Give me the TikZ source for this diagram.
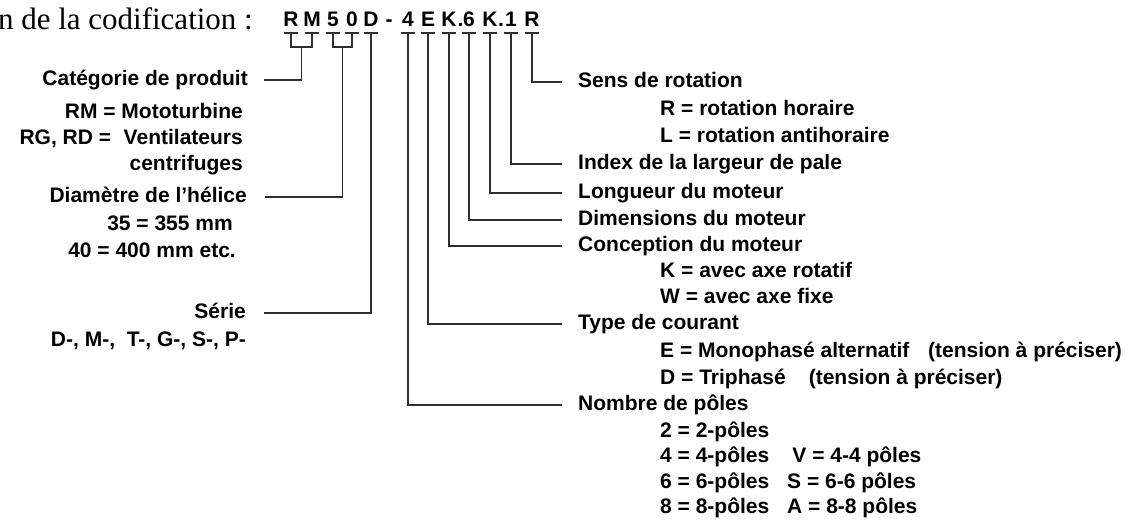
\documentclass[tikz,border=0pt]{standalone}
\usepackage{fontspec}
\setmainfont{Liberation Serif}
\setsansfont{Liberation Sans}
\usetikzlibrary{positioning,calc}
\definecolor{linegray}{HTML}{2E2E2E}

\tikzset{
	codeletter/.style={font=\sffamily\bfseries\fontsize{21}{25}\selectfont, inner sep=0pt, anchor=base},
	codeline/.style={draw=linegray, line width=2pt},
	leader/.style={draw=linegray, line width=1.3pt},
	lbl/.style={font=\sffamily\bfseries\fontsize{21}{25}\selectfont, inner sep=0pt, text height=15pt, text depth=4pt},
}

\begin{document}
\begin{tikzpicture}[x=1pt, y=-1pt]
			\useasboundingbox (0,0) rectangle (1142,522);
			\node[font=\rmfamily\fontsize{31}{35}\selectfont, inner sep=0pt, anchor=base east] (title) at (253,29) {n de la codification :};
			\foreach \n/\x/\t in {cR/291/R, cM/312/M, c5/333/5, c0/352/0, cD/371/D, c4/408/4, cE/428/E, cK/449/K, c6/469/6, cKb/490/K, c1/511/1, cRb/532/R}{
				\node[codeletter] (\n) at (\x,27) {\t};
				\coordinate (u\n) at ($(\n.base)+(0,6)$);
				\draw[codeline] ($(u\n)+(-7,0)$) -- ($(u\n)+(7,0)$);
			}
			\node[codeletter] (cdash) at (389,27) {-};
			\node[codeletter] (cdot1) at (460.5,27) {.};
			\node[codeletter] (cdot2) at (501,27) {.};
			
			\node[lbl, anchor=east] (cat) at (248,80) {Catégorie de produit};
			\node[lbl, anchor=east] (rmMot) at (243,113) {RM = Mototurbine};
			\node[lbl, anchor=east] (rgVent) at (243,139) {RG, RD =\hspace{0.6em}Ventilateurs};
			\node[lbl, anchor=east] (centri) at (243,165) {centrifuges};
			\node[lbl, anchor=east] (dia) at (247,197) {Diamètre de l’hélice};
			\node[lbl, anchor=east] (d35) at (233,225) {35 = 355 mm};
			\node[lbl, anchor=east] (d40) at (236,252) {40 = 400 mm etc.};
			\node[lbl, anchor=east] (serie) at (246,313) {Série};
			\node[lbl, anchor=east] (serList) at (246,341) {D-, M-,\ \ T-, G-, S-, P-};
			
			\node[lbl, anchor=west] (sens) at (578,82) {Sens de rotation};
			\node[lbl, anchor=west] (rotR) at (660,110) {R = rotation horaire};
			\node[lbl, anchor=west] (rotL) at (660,137) {L = rotation antihoraire};
			\node[lbl, anchor=west] (index) at (578,164) {Index de la largeur de pale};
			\node[lbl, anchor=west] (longueur) at (578,193) {Longueur du moteur};
			\node[lbl, anchor=west] (dimens) at (578,220) {Dimensions du moteur};
			\node[lbl, anchor=west] (concep) at (578,246) {Conception du moteur};
			\node[lbl, anchor=west] (kAxe) at (660,272) {K = avec axe rotatif};
			\node[lbl, anchor=west] (wAxe) at (660,298) {W = avec axe fixe};
			\node[lbl, anchor=west] (courant) at (578,324) {Type de courant};
			\node[lbl, anchor=west] (eMono) at (660,352) {E = Monophasé alternatif\hspace{0.9em}(tension à préciser)};
			\node[lbl, anchor=west] (dTri) at (660,379) {D = Triphasé\hspace{1.1em}(tension à préciser)};
			\node[lbl, anchor=west] (poles) at (578,405) {Nombre de pôles};
			\node[lbl, anchor=west] (p2) at (660,432) {2 = 2-pôles};
			\node[lbl, anchor=west] (p4) at (660,457) {4 = 4-pôles\hspace{1.1em}V = 4-4 pôles};
			\node[lbl, anchor=west] (p6) at (660,483) {6 = 6-pôles\hspace{0.85em}S = 6-6 pôles};
			\node[lbl, anchor=west] (p8) at (660,508) {8 = 8-pôles\hspace{0.85em}A = 8-8 pôles};
			
			\draw[leader] (ucR) -- ++(0,14) -| (ucM);
			\coordinate (bRM) at ($(ucR)!0.5!(ucM)+(0,14)$);
			\draw[leader] (bRM) |- ([xshift=16pt]cat.east);
			\draw[leader] (uc5) -- ++(0,14) -| (uc0);
			\coordinate (b50) at ($(uc5)!0.5!(uc0)+(0,14)$);
			\draw[leader] (b50) |- ([xshift=18pt]dia.east);
			\draw[leader] (ucD) |- ([xshift=18pt]serie.east);
			
			\draw[leader] (ucRb) |- ([xshift=-16pt]sens.west);
			\draw[leader] (uc1) |- ([xshift=-16pt]index.west);
			\draw[leader] (ucKb) |- ([xshift=-16pt]longueur.west);
			\draw[leader] (uc6) |- ([xshift=-16pt]dimens.west);
			\draw[leader] (ucK) |- ([xshift=-16pt]concep.west);
			\draw[leader] (ucE) |- ([xshift=-16pt]courant.west);
			\draw[leader] (uc4) |- ([xshift=-16pt]poles.west);
\end{tikzpicture}
\end{document}
